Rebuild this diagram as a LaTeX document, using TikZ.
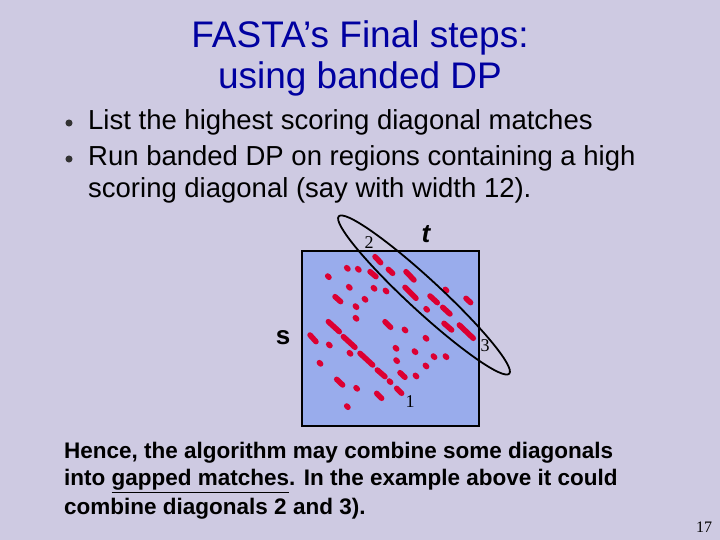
\documentclass[tikz,border=0pt]{standalone}
\usepackage{fontspec}
\setmainfont{Liberation Sans}
\newfontfamily\seriffont{Liberation Serif}
\definecolor{bg}{RGB}{206,202,226}
\definecolor{sq}{RGB}{153,172,236}
\definecolor{rd}{RGB}{220,0,50}
\definecolor{ttl}{RGB}{0,0,160}
\tikzset{dsh/.style={rd,line width=5.5pt,line cap=round},
 txt/.style={anchor=west,inner sep=0pt,font=\fontsize{27.5}{30}\selectfont},
 btxt/.style={anchor=west,inner sep=0pt,font=\fontsize{22.5}{25}\selectfont\bfseries},
 lbl/.style={inner sep=0pt,font=\seriffont\fontsize{18}{20}\selectfont}}
\begin{document}
\begin{tikzpicture}[x=1pt,y=-1pt]
\fill[bg] (0,0) rectangle (720,540);
\useasboundingbox (0,0) rectangle (720,540);
\node[inner sep=0pt,text=ttl,font=\fontsize{37}{40}\selectfont] (t1) at (360,38) {FASTA’s Final steps:};
\node[inner sep=0pt,text=ttl,font=\fontsize{37}{40}\selectfont] (t2) at (360,79) {using banded DP};
\node[circle,fill=black!80,inner sep=2.5pt] (b1) at (69,123) {};
\node[circle,fill=black!80,inner sep=2.5pt] (b2) at (69,159) {};
\node[txt] (l1) at (88,122) {List the highest scoring diagonal matches};
\node[txt] (l2) at (88,158) {Run banded DP on regions containing a high};
\node[txt] (l3) at (88,190) {scoring diagonal (say with width 12).};
\node[draw=black,line width=1.5pt,fill=sq,minimum width=177pt,minimum height=175pt,inner sep=0pt] (box) at (390.5,338.5) {};
\begin{scope}[shift={(290pt,-210pt)},x=0.3333pt,y=-0.3333pt]
\foreach \a/\b/\c/\d in {255/140/272/158,295/178/308/190,348/185/372/210,240/185/258/200,345/232/378/265,420/258/442/278,458/292/480/312,462/340/485/360,508/345/550/385,528/265/542/278,135/260/152/275,115/335/148/365,60/375/78/395,160/380/195/412,210/430/248/465,262/480/285/500,285/335/302/352,330/488/345/502,140/508/158/525,320/535/335/550,260/550/275/565}
  \draw[dsh] (\a,\b) -- (\c,\d);
\foreach \a/\b in {468/240,410/298,115/200,172/175,205/178,178/232,252/235,288/243,225/268,198/290,198/325,118/405,180/430,345/360,408/385,318/415,375/425,320/452,408/468,432/440,468/440,378/498,90/460,200/535,300/515,172/590}
  \draw[dsh] (\a-2,\b-2) -- (\a+2,\b+2);
\end{scope}
\draw[line width=1.8pt,rotate around={-42.7:(424,295)}] (424,295) ellipse [x radius=116, y radius=16];
\node[lbl] (n2) at (369,243) {2};
\node[lbl] (n3) at (485,346) {3};
\node[lbl] (n1) at (410,402) {1};
\node[inner sep=0pt,font=\fontsize{26}{28}\selectfont\bfseries\itshape] (tt) at (426,234) {t};
\node[inner sep=0pt,font=\fontsize{26}{28}\selectfont\bfseries] (ss) at (283,338) {s};
\node[btxt] (p1) at (64,453) {Hence, the algorithm may combine some diagonals};
\node[btxt] (p2) at (64,481) {into \underline{gapped matches}. In the example above it could};
\node[btxt] (p3) at (64,509) {combine diagonals 2 and 3).};
\node[inner sep=0pt,font=\seriffont\fontsize{16}{18}\selectfont] (pg) at (704,527) {17};
\end{tikzpicture}
\end{document}
